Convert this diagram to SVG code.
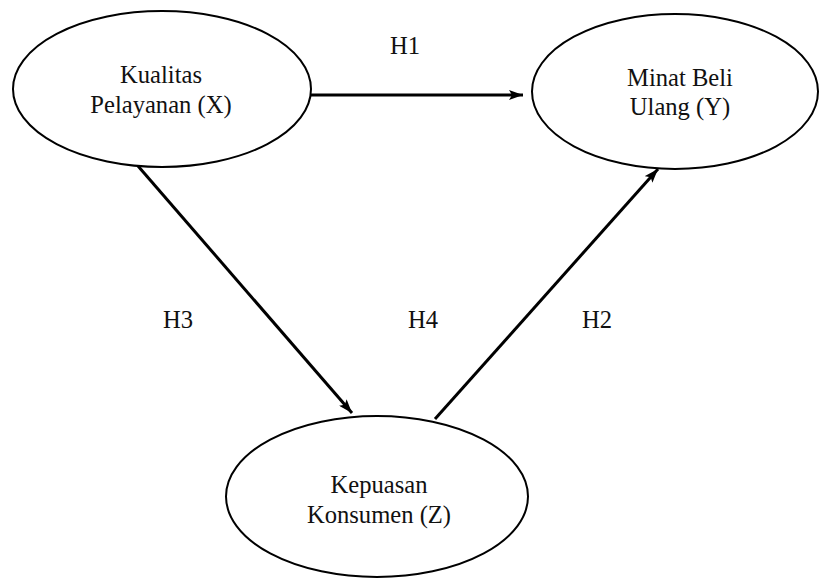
<svg xmlns="http://www.w3.org/2000/svg" width="819" height="578" viewBox="0 0 819 578">
<style>
.node ellipse{fill:#fff;stroke:#000;stroke-width:2}
text{font-family:"Liberation Serif","Times New Roman",serif;font-size:24.6px;fill:#111;text-anchor:middle}
.conn line{stroke:#000;stroke-width:3}
</style>
<defs>
<marker id="ah" viewBox="0 0 14 10" refX="14" refY="5" markerWidth="14" markerHeight="10" markerUnits="userSpaceOnUse" orient="auto">
<path d="M0,0 L14,5 L0,10 L3,5 Z" fill="#000"/>
</marker>
</defs>
<rect width="819" height="578" fill="#fff"/>
<g class="conn">
<line x1="311" y1="95" x2="523" y2="95" marker-end="url(#ah)"/>
<line x1="138" y1="166" x2="352" y2="413" marker-end="url(#ah)"/>
<line x1="435" y1="419" x2="658" y2="169" marker-end="url(#ah)"/>
</g>
<g id="node-x" class="node">
<ellipse cx="162" cy="89" rx="149" ry="78"/>
<text x="161" y="83">Kualitas</text>
<text x="161" y="113">Pelayanan (X)</text>
</g>
<g id="node-y" class="node">
<ellipse cx="675" cy="91.5" rx="143" ry="77.5"/>
<text x="680" y="86">Minat Beli</text>
<text x="680" y="115">Ulang (Y)</text>
</g>
<g id="node-z" class="node">
<ellipse cx="377" cy="496.5" rx="151" ry="80.5"/>
<text x="379" y="493">Kepuasan</text>
<text x="379" y="523">Konsumen (Z)</text>
</g>
<g id="labels">
<text x="405" y="54">H1</text>
<text x="178" y="328">H3</text>
<text x="423" y="328">H4</text>
<text x="597" y="328">H2</text>
</g>
</svg>
